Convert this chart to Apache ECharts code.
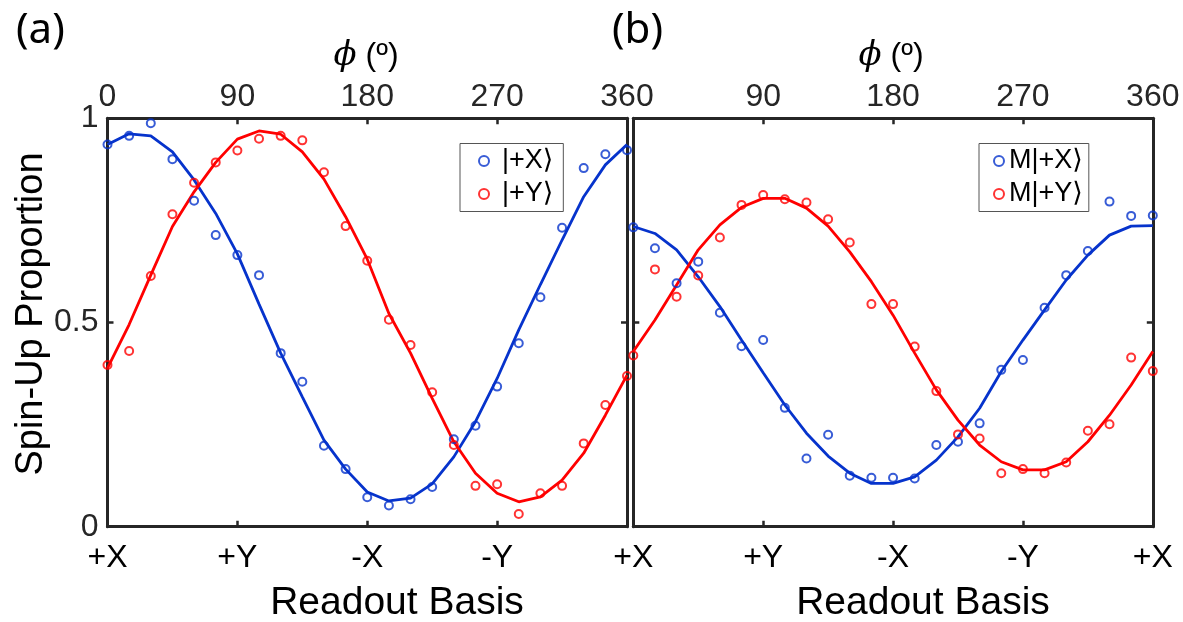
<!DOCTYPE html>
<html>
<head>
<meta charset="utf-8">
<script src="https://cdn.jsdelivr.net/npm/echarts@6/dist/echarts.min.js"></script>
<style>
html,body{margin:0;padding:0;background:#fff;}
#chart{width:1183px;height:622px;}
</style>
</head>
<body>
<div id="chart"></div>
<script>
// ---------- data ----------
const phi = [0,15,30,45,60,75,90,105,120,135,150,165,180,195,210,225,240,255,270,285,300,315,330,345,360];
const phiTicks = ['0','90','180','270','360'];
const basisTicks = ['+X','+Y','-X','-Y','+X'];
const yTicks = {0:'0', 0.5:'0.5', 1:'1'};

// panel (a)
const aXdata = [0.936,0.957,0.988,0.900,0.798,0.714,0.665,0.616,0.425,0.355,0.198,0.141,0.072,0.052,0.067,0.097,0.214,0.247,0.343,0.449,0.562,0.732,0.878,0.912,0.922];
const aXfit  = [0.936,0.962,0.957,0.918,0.849,0.767,0.668,0.545,0.425,0.318,0.212,0.141,0.085,0.063,0.070,0.105,0.171,0.257,0.363,0.482,0.593,0.702,0.808,0.886,0.936];
const aYdata = [0.396,0.430,0.614,0.765,0.842,0.892,0.921,0.950,0.957,0.946,0.868,0.736,0.651,0.507,0.445,0.329,0.200,0.100,0.104,0.031,0.082,0.100,0.204,0.298,0.369];
const aYfit  = [0.388,0.495,0.616,0.735,0.820,0.892,0.949,0.969,0.961,0.918,0.851,0.759,0.655,0.522,0.425,0.314,0.208,0.131,0.082,0.061,0.073,0.114,0.180,0.273,0.371];

// panel (b)
const bXdata = [0.733,0.682,0.596,0.649,0.524,0.442,0.457,0.291,0.167,0.225,0.125,0.120,0.120,0.118,0.200,0.208,0.253,0.384,0.408,0.536,0.616,0.675,0.796,0.761,0.762];
const bXfit  = [0.735,0.718,0.678,0.612,0.539,0.457,0.377,0.298,0.229,0.173,0.131,0.106,0.106,0.122,0.163,0.220,0.290,0.380,0.457,0.531,0.604,0.665,0.714,0.736,0.737];
const bYdata = [0.419,0.630,0.563,0.615,0.708,0.788,0.812,0.802,0.794,0.753,0.696,0.545,0.545,0.441,0.332,0.226,0.216,0.131,0.141,0.131,0.157,0.235,0.251,0.414,0.381];
const bYfit  = [0.429,0.506,0.592,0.678,0.739,0.782,0.804,0.804,0.780,0.736,0.673,0.600,0.518,0.425,0.335,0.261,0.200,0.159,0.139,0.139,0.159,0.208,0.273,0.347,0.429];

const legendA = ['|+X⟩','|+Y⟩'];
const legendB = ['M|+X⟩','M|+Y⟩'];

// ---------- style ----------
const BLUE = '#0633cc';
const RED = '#ff0000';
const FRAME = '#262626';
const FONT = '"Liberation Sans", Arial, "DejaVu Sans", sans-serif';

const pairs = (ys) => phi.map((p, i) => [p, ys[i]]);

const G = [
  {left: 107.5, top: 118.3, width: 519.5, height: 408.4},
  {left: 633.3, top: 118.3, width: 519.5, height: 408.4}
];

function xAx(grid, pos, labels, hideIdx) {
  return {
    type: 'value', gridIndex: grid, position: pos, min: 0, max: 360, interval: 90,
    axisLine: {show: true, onZero: false, lineStyle: {color: FRAME, width: 3}},
    axisTick: {show: true, inside: true, length: 6, lineStyle: {color: FRAME, width: 2.5}},
    splitLine: {show: false},
    axisLabel: {
      show: true, margin: pos === 'top' ? 5 : 15, color: pos === 'top' ? '#262626' : '#000',
      fontFamily: FONT, fontSize: 32, showMinLabel: true, showMaxLabel: true,
      formatter: (v) => { const k = Math.round(v / 90); return hideIdx.includes(k) ? '' : labels[k]; }
    }
  };
}
function yAx(grid, pos, showLabel) {
  return {
    type: 'value', gridIndex: grid, position: pos, min: 0, max: 1, interval: 0.5,
    axisLine: {show: true, onZero: false, lineStyle: {color: FRAME, width: 3}},
    axisTick: {show: true, inside: true, length: 6, lineStyle: {color: FRAME, width: 2.5}},
    splitLine: {show: false},
    axisLabel: {
      show: showLabel, margin: 9, color: '#262626', fontFamily: FONT, fontSize: 32,
      showMinLabel: true, showMaxLabel: true,
      formatter: (v) => yTicks[v] !== undefined ? yTicks[v] : ''
    }
  };
}

function lineS(name, xi, yi, ys, color) {
  return {
    name: name + '_fit', type: 'line', xAxisIndex: xi, yAxisIndex: yi, data: pairs(ys),
    showSymbol: false, symbol: 'none', lineStyle: {color: color, width: 2.8}, itemStyle: {color: color},
    silent: true, animation: false, z: 3
  };
}
function scatS(name, xi, yi, ys, color) {
  return {
    name: name, type: 'scatter', xAxisIndex: xi, yAxisIndex: yi, data: pairs(ys),
    symbol: 'circle', symbolSize: 8, clip: false,
    itemStyle: {color: 'rgba(255,255,255,0)', borderColor: color, borderWidth: 2},
    animation: false, z: 4
  };
}

function legendCfg(left, names) {
  return {
    data: names.map((n) => ({name: n, icon: 'circle'})),
    orient: 'vertical', left: left, top: 143.5,
    itemWidth: 10, itemHeight: 10, itemGap: 6,
    backgroundColor: '#fff', borderColor: '#555', borderWidth: 1, borderRadius: 0,
    padding: names[0].length > 4 ? [4, 6, 4, 14] : [4, 10, 4, 18],
    textStyle: {fontFamily: FONT, fontSize: 27, color: '#000', padding: [0, 0, 0, names[0].length > 4 ? 0 : 8]},
    selectedMode: false
  };
}

const chart = echarts.init(document.getElementById('chart'), null, {renderer: 'canvas'});
chart.setOption({
  backgroundColor: '#fff',
  animation: false,
  grid: G.map((g) => Object.assign({containLabel: false}, g)),
  xAxis: [
    xAx(0, 'bottom', basisTicks, [4]),
    xAx(0, 'top', phiTicks, []),
    xAx(1, 'bottom', basisTicks, []),
    xAx(1, 'top', phiTicks, [0])
  ],
  yAxis: [
    yAx(0, 'left', true),
    yAx(0, 'right', false),
    yAx(1, 'left', false),
    yAx(1, 'right', false)
  ],
  legend: [legendCfg(460, legendA), legendCfg(979, legendB)],
  series: [
    lineS(legendA[0], 0, 0, aXfit, BLUE),
    lineS(legendA[1], 0, 0, aYfit, RED),
    scatS(legendA[0], 0, 0, aXdata, BLUE),
    scatS(legendA[1], 0, 0, aYdata, RED),
    lineS(legendB[0], 2, 2, bXfit, BLUE),
    lineS(legendB[1], 2, 2, bYfit, RED),
    scatS(legendB[0], 2, 2, bXdata, BLUE),
    scatS(legendB[1], 2, 2, bYdata, RED)
  ],
  graphic: [
    {type: 'text', left: 16, top: 10, style: {text: '(a)', font: '42px "Noto Sans", "Open Sans", sans-serif', fill: '#000'}},
    {type: 'text', left: 612, top: 10, style: {text: '(b)', font: '42px "Noto Sans", "Open Sans", sans-serif', fill: '#000'}},
    {type: 'text', x: 366, y: 56, style: {text: '{i|ϕ} (º)', align: 'center', verticalAlign: 'middle', fill: '#000',
      font: '32px "Liberation Sans", "DejaVu Sans", sans-serif',
      rich: {i: {fontStyle: 'italic', fontSize: 34, fontFamily: '"DejaVu Serif", "Liberation Serif", serif'}}}},
    {type: 'text', x: 891, y: 56, style: {text: '{i|ϕ} (º)', align: 'center', verticalAlign: 'middle', fill: '#000',
      font: '32px "Liberation Sans", "DejaVu Sans", sans-serif',
      rich: {i: {fontStyle: 'italic', fontSize: 34, fontFamily: '"DejaVu Serif", "Liberation Serif", serif'}}}},
    {type: 'text', x: 397, y: 603, style: {text: 'Readout Basis', align: 'center', verticalAlign: 'middle', fill: '#000',
      font: '39px "Liberation Sans", Arial, sans-serif'}},
    {type: 'text', x: 923, y: 603, style: {text: 'Readout Basis', align: 'center', verticalAlign: 'middle', fill: '#000',
      font: '39px "Liberation Sans", Arial, sans-serif'}},
    {type: 'text', x: 32, y: 314, rotation: Math.PI / 2, style: {text: 'Spin-Up Proportion', align: 'center', verticalAlign: 'middle', fill: '#000',
      font: '38px "Liberation Sans", Arial, sans-serif'}}
  ]
});
</script>
</body>
</html>
